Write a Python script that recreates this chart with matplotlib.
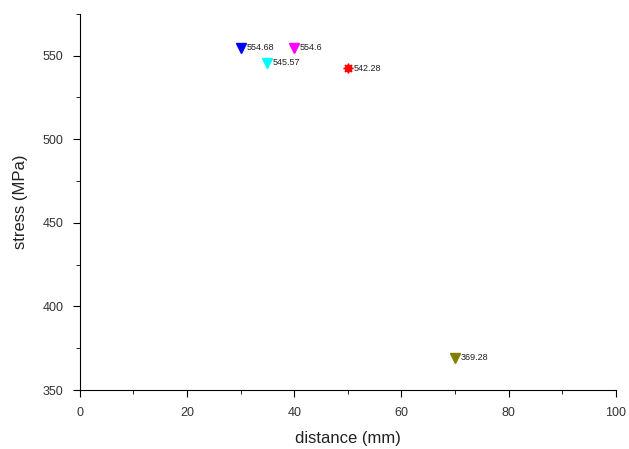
import matplotlib
matplotlib.use('Agg')
from matplotlib import pyplot as plt
from matplotlib.ticker import MultipleLocator

plt.rcParams['font.family'] = ['Liberation Sans', 'DejaVu Sans']

distance = [30, 40, 35, 50, 70]
stress = [554.68, 554.6, 545.57, 542.28, 369.28]
labels = ['554.68', '554.6', '545.57', '542.28', '369.28']
colors = ['#0000ff', '#ff00ff', '#00ffff', '#ff0000', '#808000']
markers = ['v', 'v', 'v', (8, 1, 0), 'v']

fig = plt.figure(figsize=(6.29, 4.49), dpi=100)
ax = fig.add_axes([0.127, 0.1314, 0.852, 0.838])

for x, y, lab, c, m in zip(distance, stress, labels, colors, markers):
    ax.plot(x, y, marker=m, color=c, markersize=7, linestyle='none')
    ax.annotate(lab, (x, y), xytext=(4, 0), textcoords='offset points',
                fontsize=6.5, va='center', ha='left', color='#202020')

ax.set_xlim(0, 100)
ax.set_ylim(350, 575)
ax.xaxis.set_major_locator(MultipleLocator(20))
ax.xaxis.set_minor_locator(MultipleLocator(10))
ax.yaxis.set_major_locator(MultipleLocator(50))
ax.yaxis.set_minor_locator(MultipleLocator(25))

ax.spines['top'].set_visible(False)
ax.spines['right'].set_visible(False)
ax.tick_params(which='major', direction='out', length=5, labelsize=9,
               labelcolor='#333333', pad=7)
ax.tick_params(which='minor', direction='out', length=3)

ax.set_xlabel('distance (mm)', fontsize=12, color='#222222', labelpad=9)
ax.set_ylabel('stress (MPa)', fontsize=12, color='#222222', labelpad=10)

fig.savefig('out.png', dpi=100)
